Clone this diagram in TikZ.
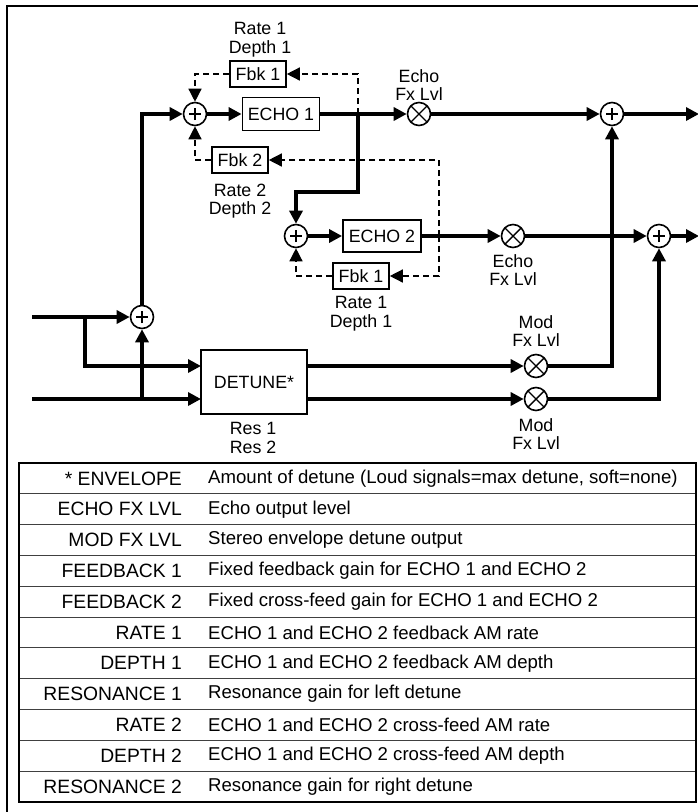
\documentclass[tikz,border=0pt]{standalone}
\usepackage{fontspec}
\setmainfont{Liberation Sans}
\usetikzlibrary{arrows.meta}

\tikzset{
  sig/.style={line width=3.4pt},
  fb/.style={line width=1.4pt, dash pattern=on 6pt off 4pt},
  arr/.style={-{Triangle[length=13pt,width=13pt]}},
  sumnode/.style={circle, draw, line width=1.6pt, fill=white, minimum size=23pt, inner sep=0pt,
    path picture={\draw[line width=1.4pt]
      ([xshift=-6pt]path picture bounding box.center) -- ([xshift=6pt]path picture bounding box.center)
      ([yshift=-6pt]path picture bounding box.center) -- ([yshift=6pt]path picture bounding box.center);}},
  mulnode/.style={circle, draw, line width=1.6pt, fill=white, minimum size=23pt, inner sep=0pt,
    path picture={\draw[line width=1.4pt]
      (path picture bounding box.north west) -- (path picture bounding box.south east)
      (path picture bounding box.north east) -- (path picture bounding box.south west);}},
  blockbox/.style={draw, line width=1.8pt, fill=white, inner sep=0pt, minimum width=77pt, minimum height=33pt},
  fbkbox/.style={draw, line width=1.6pt, fill=white, inner sep=0pt, minimum width=56pt, minimum height=26pt},
  lbl/.style={align=center, inner sep=0pt},
  keytxt/.style={anchor=east, inner sep=0pt, font=\fontsize{19.3}{20}\selectfont},
  desctxt/.style={anchor=west, inner sep=0pt, font=\fontsize{18.6}{20}\selectfont},
}

\begin{document}
\begin{tikzpicture}[x=1pt, y=-1pt, font=\fontsize{17.8}{18.6}\selectfont]
  \useasboundingbox (0,0) rectangle (698,812);

  % outer frame (runs off the right and bottom)
  \draw[line width=2.4pt] (7,6) rectangle (730,840);

  % 1. ECHO 1 branch
  \node[sumnode] (sum1) at (195,114) {};
  \node[blockbox] (echoA) at (281,114) {ECHO 1};
  \node[fbkbox] (fbkA) at (258,74) {Fbk 1};
  \node[fbkbox] (fbkB) at (240,160) {Fbk 2};
  \node[mulnode] (mulA) at (419,114) {};
  \node[sumnode] (sumR1) at (612,114) {};
  \node[lbl] (lblRateA) at (260,40) {Rate 1\\Depth 1};
  \node[lbl] (lblRateB) at (240,201) {Rate 2\\Depth 2};
  \node[lbl] (lblEchoA) at (419,85) {Echo\\Fx Lvl};

  % 2. ECHO 2 branch
  \node[sumnode] (sum2) at (296,236) {};
  \node[blockbox, minimum width=78pt, minimum height=32pt] (echoB) at (382,236) {ECHO 2};
  \node[fbkbox] (fbkC) at (361,276) {Fbk 1};
  \node[mulnode] (mulB) at (513,236) {};
  \node[sumnode] (sumR2) at (659,236) {};
  \node[lbl] (lblRateC) at (361,314) {Rate 1\\Depth 1};
  \node[lbl] (lblEchoB) at (513,270) {Echo\\Fx Lvl};

  % 3. inputs and detune
  \node[sumnode] (sumL) at (142,317) {};
  \node[blockbox, minimum width=106pt, minimum height=64pt] (detune) at (254,382) {DETUNE*};
  \node[mulnode] (modA) at (536,366) {};
  \node[mulnode] (modB) at (536,399) {};
  \node[lbl] (lblRes) at (253,438) {Res 1\\Res 2};
  \node[lbl] (lblModA) at (536,331) {Mod\\Fx Lvl};
  \node[lbl] (lblModB) at (536,434) {Mod\\Fx Lvl};

  \coordinate (inA) at (32,317);
  \coordinate (inB) at (32,399);
  \coordinate (brA) at (85,317);
  \coordinate (brB) at (142,399);
  \coordinate (dinA) at (201,366);
  \coordinate (dinB) at (201,399);
  \coordinate (doutA) at (307,366);
  \coordinate (doutB) at (307,399);
  \coordinate (tapA) at (358,114);
  \coordinate (crossA) at (358,192);
  \coordinate (tapB) at (439,236);
  \coordinate (outA) at (699,114);
  \coordinate (outB) at (699,236);

  % signal paths
  \draw[sig, arr] (sumL.north) |- (sum1.west);
  \draw[sig, arr] (sum1) -- (echoA);
  \draw[sig, arr] (echoA) -- (mulA);
  \draw[sig, arr] (mulA) -- (sumR1);
  \draw[sig, arr] (sumR1) -- (outA);
  \draw[sig, arr] (tapA) -- (crossA) -| (sum2.north);
  \draw[sig, arr] (sum2) -- (echoB);
  \draw[sig, arr] (echoB) -- (mulB);
  \draw[sig, arr] (mulB) -- (sumR2);
  \draw[sig, arr] (sumR2) -- (outB);
  \draw[sig, arr] (inA) -- (sumL);
  \draw[sig, arr] (brA) |- (dinA);
  \draw[sig, arr] (inB) -- (dinB);
  \draw[sig, arr] (brB) -- (sumL.south);
  \draw[sig, arr] (doutA) -- (modA);
  \draw[sig, arr] (doutB) -- (modB);
  \draw[sig, arr] (modA) -| (sumR1.south);
  \draw[sig, arr] (modB) -| (sumR2.south);

  % feedback paths
  \draw[fb, arr] (tapA) |- (fbkA.east);
  \draw[fb, arr] (fbkA.west) -| (sum1.north);
  \draw[fb, arr] (tapB) |- (fbkB.east);
  \draw[fb, arr] (fbkB.west) -| (sum1.south);
  \draw[fb, arr] (tapB) |- (fbkC.east);
  \draw[fb, arr] (fbkC.west) -| (sum2.south);

  % 4. parameter table
  \draw[line width=0.9pt, black!75] \foreach \r in {1,...,10} {(19,463+\r*30.82) -- (696,463+\r*30.82)};
  \draw[line width=2.4pt] (19,463) rectangle (696,802);
  \foreach \key/\desc [count=\i] in {
      {* ENVELOPE}/{Amount of detune (Loud signals=max detune, soft=none)},
      {ECHO FX LVL}/{Echo output level},
      {MOD FX LVL}/{Stereo envelope detune output},
      {FEEDBACK 1}/{Fixed feedback gain for ECHO 1 and ECHO 2},
      {FEEDBACK 2}/{Fixed cross-feed gain for ECHO 1 and ECHO 2},
      {RATE 1}/{ECHO 1 and ECHO 2 feedback AM rate},
      {DEPTH 1}/{ECHO 1 and ECHO 2 feedback AM depth},
      {RESONANCE 1}/{Resonance gain for left detune},
      {RATE 2}/{ECHO 1 and ECHO 2 cross-feed AM rate},
      {DEPTH 2}/{ECHO 1 and ECHO 2 cross-feed AM depth},
      {RESONANCE 2}/{Resonance gain for right detune}} {
    \node[keytxt] (key\i) at (182,463+\i*30.82-15.41) {\key};
    \node[desctxt] (desc\i) at (208,463+\i*30.82-15.41) {\desc};
  }
\end{tikzpicture}
\end{document}
